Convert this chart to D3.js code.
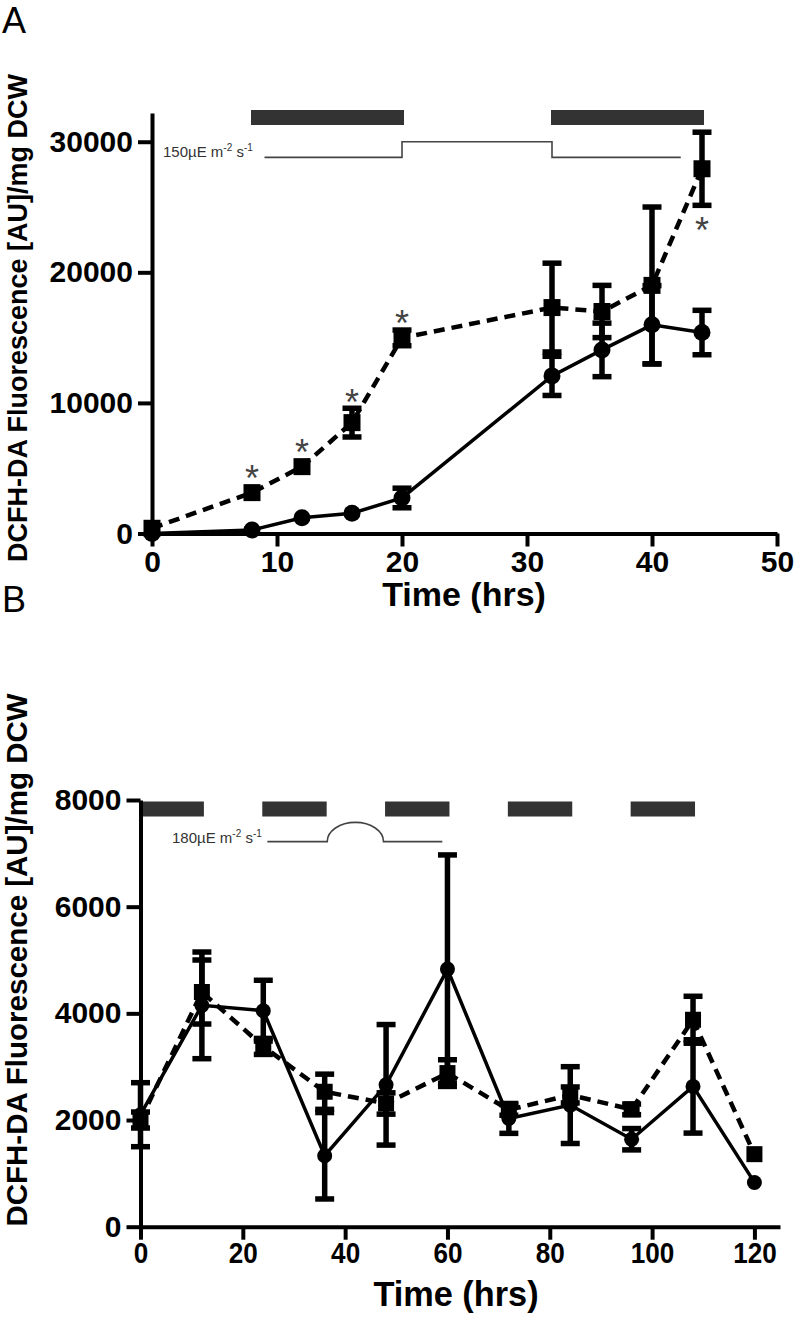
<!DOCTYPE html>
<html lang="en">
<head>
<meta charset="UTF-8">
<script src="https://cdn.jsdelivr.net/npm/d3@7"></script>
<title>DCFH-DA fluorescence</title>
<style>
  body { margin: 0; background: #fff; }
  svg { display: block; font-family: 'Liberation Sans', Arial, sans-serif; }
  .axis path, .axis line { stroke: #000; stroke-width: 4px; }
  .axis text { font-weight: bold; fill: #000; }
  .title { font-weight: bold; fill: #000; }
  .light { fill: none; stroke: #444; stroke-width: 1.6px; }
  .lighttxt { fill: #333; font-size: 15px; }
  .dark { fill: #333; }
  .ast { fill: #444; font-size: 36px; text-anchor: middle; }
</style>
</head>
<body>
<svg width="797" height="1331"></svg>
<script>
// ---- panel A data ----
const timeA = [0, 8, 12, 16, 20, 32, 36, 40, 44]
const circA = [0, 270, 1210, 1550, 2720, 12070, 14060, 15980, 15390]
const circErrA = [0, 0, 0, 0, 750, 1500, 2050, 3000, 1700]
const sqA = [400, 3130, 5120, 8490, 14980, 17300, 17000, 19000, 27930]
const sqErrA = [0, 0, 0, 1100, 600, 3400, 2000, 6000, 2800]
const starsA = [[8, 'above'], [12, 'above'], [16, 'above'], [20, 'above'], [44, 'below']]
const darkA = [[8, 20], [32, 44]]
const lightA = [[9, 28800], [20, 28800], [20, 30000], [32, 30000], [32, 28800], [42.3, 28800]]
const ticksXA = [0, 10, 20, 30, 40, 50]
const ticksYA = [0, 10000, 20000, 30000]

// ---- panel B data ----
const timeB = [0, 12, 24, 36, 48, 60, 72, 84, 96, 108, 120]
const circB = [2100, 4150, 4050, 1330, 2660, 4830, 2030, 2280, 1640, 2630, 830]
const circErrB = [600, 1000, 570, 810, 1130, 2140, 280, 720, 200, 875, 0]
const sqB = [2000, 4400, 3380, 2530, 2310, 2880, 2190, 2470, 2200, 3880, 1360]
const sqErrB = [150, 600, 150, 330, 200, 250, 100, 150, 100, 440, 0]
const darkB = [[0, 12], [24, 36], [48, 60], [72, 84], [96, 108]]
const lightBx = [24.8, 36.5, 47.5, 59]   // flat, arc start, arc end, flat end
const lightBlevel = 7220
const lightBpeak = 7580
const ticksXB = [0, 20, 40, 60, 80, 100, 120]
const ticksYB = [0, 2000, 4000, 6000, 8000]

const svg = d3.select('svg')

function panel (cfg) {
  const g = svg.append('g')
  const x = cfg.x, y = cfg.y

  // dark periods
  g.selectAll('.dark').data(cfg.dark).enter().append('rect')
    .attr('class', 'dark')
    .attr('x', d => x(d[0]) - 1)
    .attr('width', d => x(d[1]) - x(d[0]) + 3)
    .attr('y', cfg.darkY)
    .attr('height', 15)

  // axes
  g.append('g').attr('class', 'axis')
    .attr('transform', `translate(0,${y(0)})`)
    .call(d3.axisBottom(x).tickValues(cfg.ticksX).tickSize(13).tickSizeOuter(0).tickPadding(cfg.xPad))
    .selectAll('text').style('font-size', cfg.xFont + 'px')
    .attr('transform', `scale(${cfg.xSquash},1)`)
  g.append('g').attr('class', 'axis')
    .attr('transform', `translate(${x(0)},0)`)
    .call(d3.axisLeft(y).tickValues(cfg.ticksY).tickSize(14).tickSizeOuter(0).tickPadding(5).tickFormat(d3.format('d')))
    .selectAll('text').style('font-size', cfg.yFont + 'px')

  // lines
  const line = (vals) => d3.line().x((d, i) => x(cfg.time[i])).y(d => y(d))(vals)
  g.append('path').attr('d', line(cfg.sq))
    .attr('fill', 'none').attr('stroke', '#000').attr('stroke-width', 4.5).attr('stroke-dasharray', '11,7')
  g.append('path').attr('d', line(cfg.circ))
    .attr('fill', 'none').attr('stroke', '#000').attr('stroke-width', 3.5)

  // error bars
  function errBars (vals, errs) {
    const rows = vals.map((v, i) => ({ t: cfg.time[i], v: v, e: errs[i] })).filter(d => d.e > 0)
    const eg = g.append('g').attr('stroke', '#000').attr('stroke-width', 5.5)
    eg.selectAll('.v').data(rows).enter().append('line')
      .attr('x1', d => x(d.t)).attr('x2', d => x(d.t))
      .attr('y1', d => y(d.v - d.e)).attr('y2', d => y(d.v + d.e))
    eg.selectAll('.hi').data(rows).enter().append('line')
      .attr('x1', d => x(d.t) - 9.5).attr('x2', d => x(d.t) + 9.5)
      .attr('y1', d => y(d.v + d.e)).attr('y2', d => y(d.v + d.e))
    eg.selectAll('.lo').data(rows).enter().append('line')
      .attr('x1', d => x(d.t) - 9.5).attr('x2', d => x(d.t) + 9.5)
      .attr('y1', d => y(d.v - d.e)).attr('y2', d => y(d.v - d.e))
  }
  errBars(cfg.circ, cfg.circErr)
  errBars(cfg.sq, cfg.sqErr)

  // markers
  g.selectAll('.sq').data(cfg.sq).enter().append('rect')
    .attr('x', (d, i) => x(cfg.time[i]) - cfg.sqSide / 2)
    .attr('y', d => y(d) - cfg.sqSide / 2)
    .attr('width', cfg.sqSide).attr('height', cfg.sqSide)
  g.selectAll('.ci').data(cfg.circ).enter().append('circle')
    .attr('cx', (d, i) => x(cfg.time[i])).attr('cy', d => y(d)).attr('r', cfg.r)

  // axis titles
  g.append('text').attr('class', 'title')
    .attr('x', cfg.titleX).attr('y', cfg.titleY)
    .attr('text-anchor', 'middle').style('font-size', cfg.titleFont + 'px')
    .attr('transform', `translate(${cfg.titleX},0) scale(${cfg.titleSquash},1) translate(${-cfg.titleX},0)`)
    .text('Time (hrs)')
  g.append('text').attr('class', 'title')
    .attr('transform', `translate(27,${cfg.yTitleMid}) rotate(-90)`)
    .attr('text-anchor', 'middle').style('font-size', cfg.yTitleFont + 'px')
    .text('DCFH-DA Fluorescence [AU]/mg DCW')

  // panel letter
  svg.append('text').attr('x', 2).attr('y', cfg.letterY)
    .style('font-size', '36px').text(cfg.letter)

  // light label
  const lt = g.append('text').attr('class', 'lighttxt').attr('x', cfg.lightTxtX).attr('y', cfg.lightTxtY)
  lt.append('tspan').text(cfg.lightTxt + 'µE m')
  lt.append('tspan').attr('dy', -6).style('font-size', '10px').text('-2')
  lt.append('tspan').attr('dy', 6).text(' s')
  lt.append('tspan').attr('dy', -6).style('font-size', '10px').text('-1')

  return g
}

// ---- panel A ----
const xA = d3.scaleLinear().domain([0, 50]).range([152, 777])
const yA = d3.scaleLinear().domain([0, 32200]).range([533.5, 113])
const gA = panel({
  x: xA, y: yA, time: timeA, circ: circA, circErr: circErrA, sq: sqA, sqErr: sqErrA,
  dark: darkA, darkY: 110, ticksX: ticksXA, ticksY: ticksYA,
  xFont: 30, xPad: 4, xSquash: 1, yFont: 30,
  titleX: 464, titleY: 606, titleFont: 34, titleSquash: 1,
  yTitleMid: 318, yTitleFont: 27,
  sqSide: 17, r: 8.5, letter: 'A', letterY: 33,
  lightTxt: '150', lightTxtX: 163, lightTxtY: 157
})
gA.append('path').attr('class', 'light')
  .attr('d', d3.line().x(d => xA(d[0])).y(d => yA(d[1]))(lightA))

// significance stars
gA.selectAll('.ast').data(starsA).enter().append('text')
  .attr('class', 'ast')
  .attr('x', d => xA(d[0]))
  .attr('y', d => {
    const i = timeA.indexOf(d[0])
    const v = sqA[i], e = sqErrA[i]
    const cy = d[1] === 'above'
      ? Math.min(yA(v + e), yA(v) - 8.5) - 14
      : Math.max(yA(v - e), yA(v) + 8.5) + 17
    return cy + 21
  })
  .text('*')

// ---- panel B ----
const xB = d3.scaleLinear().domain([0, 125]).range([140.5, 780])
const yB = d3.scaleLinear().domain([0, 8000]).range([1226.7, 800])
const gB = panel({
  x: xB, y: yB, time: timeB, circ: circB, circErr: circErrB, sq: sqB, sqErr: sqErrB,
  dark: darkB, darkY: 801.5, ticksX: ticksXB, ticksY: ticksYB,
  xFont: 29, xPad: 3, xSquash: 0.9, yFont: 30,
  titleX: 456, titleY: 1306, titleFont: 35, titleSquash: 0.98,
  yTitleMid: 960, yTitleFont: 29.5,
  sqSide: 16, r: 7.5, letter: 'B', letterY: 612,
  lightTxt: '180', lightTxtX: 172, lightTxtY: 843
})
const yl = yB(lightBlevel), ry = yl - yB(lightBpeak)
const lx = lightBx.map(xB)
gB.append('path').attr('class', 'light')
  .attr('d', `M${lx[0]},${yl}L${lx[1]},${yl}A${(lx[2] - lx[1]) / 2},${ry} 0 0 1 ${lx[2]},${yl}L${lx[3]},${yl}`)
</script>
</body>
</html>
